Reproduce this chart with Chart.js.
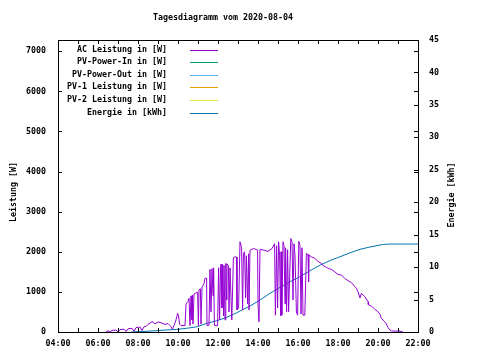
<!DOCTYPE html>
<html><head><meta charset="utf-8">
<script src="https://cdn.jsdelivr.net/npm/chart.js@4/dist/chart.umd.min.js"></script>
<style>html,body{margin:0;padding:0;background:#fff}canvas{display:block}</style>
</head><body>
<canvas id="c" width="480" height="360"></canvas>
<script>
const titleText = "Tagesdiagramm vom 2020-08-04";
const yTitle = "Leistung [W]";
const y2Title = "Energie [kWh]";
const seriesNames = ["AC Leistung in [W]","PV-Power-In in [W]","PV-Power-Out in [W]","PV-1 Leistung in [W]","PV-2 Leistung in [W]","Energie in [kWh]"];
const seriesColors = ["#9400D3","#009E73","#56B4E9","#E69F00","#F0E442","#0072B2"];

// AC Leistung: time (hours) and power (W)
const acTime = [6.40,6.50,6.60,6.70,6.90,7.00,7.10,7.30,7.40,7.50,7.70,7.80,7.90,8.10,8.20,8.30,8.40,8.50,8.60,8.70,8.80,8.85,9.00,9.10,9.20,9.35,9.50,9.60,9.65,9.72,9.80,9.90,9.98,10.02,10.08,10.15,10.35,10.40,10.50,10.55,10.60,10.65,10.70,10.72,10.75,10.80,10.88,10.98,11.02,11.05,11.12,11.15,11.20,11.30,11.35,11.43,11.45,11.55,11.60,11.65,11.70,11.75,11.78,11.82,11.98,12.03,12.08,12.13,12.15,12.20,12.23,12.28,12.30,12.35,12.39,12.43,12.45,12.52,12.55,12.60,12.69,12.77,12.85,12.93,12.95,13.03,13.10,13.18,13.23,13.27,13.33,13.38,13.42,13.48,13.53,13.55,13.60,13.77,13.90,13.98,14.00,14.05,14.10,14.30,14.50,14.70,14.83,14.87,14.93,14.98,15.03,15.08,15.13,15.15,15.19,15.25,15.30,15.35,15.38,15.43,15.48,15.53,15.64,15.70,15.75,15.80,15.85,15.92,15.98,16.04,16.10,16.15,16.20,16.25,16.34,16.42,16.50,16.53,16.55,16.67,16.84,17.00,17.17,17.25,17.42,17.54,17.67,17.84,18.00,18.17,18.34,18.50,18.67,18.84,18.92,19.00,19.10,19.17,19.34,19.50,19.52,19.67,19.84,20.00,20.09,20.17,20.34,20.42,20.50,20.59,20.67,20.85,21.05,21.25];
const acPower = [0,30,0,40,50,0,60,70,10,80,90,20,110,125,40,130,140,190,220,260,230,200,250,240,220,190,210,160,130,70,160,300,465,420,200,160,160,700,760,840,160,900,300,920,200,950,970,990,160,1050,1080,200,1120,1200,1340,1340,160,170,1560,500,1580,900,1600,160,160,1600,300,1620,1690,600,1680,400,1660,300,1710,800,1700,1650,500,1600,300,1850,1875,1870,550,600,2250,2100,550,1950,2000,850,1900,700,1950,550,2040,2080,2060,2040,700,255,2060,2040,2010,2080,2200,420,2150,600,2250,1900,400,2000,420,2250,2150,700,2100,500,2050,505,2330,2250,800,2200,1900,500,420,2260,2150,450,2100,420,420,1960,1930,1250,1920,1875,1835,1760,1710,1660,1610,1580,1560,1500,1435,1420,1335,1280,1230,1130,1090,1005,850,965,880,755,680,650,565,505,450,340,255,200,115,50,30,20,25,0];

// Energie: time (hours) and energy (kWh)
const enTime = [7.65,8.69,9.35,9.94,10.43,10.94,11.44,11.94,12.44,12.94,13.10,13.60,14.10,14.60,15.10,15.60,16.10,16.60,17.10,17.60,18.10,18.60,19.10,19.60,20.10,20.27,20.60,22.00];
const enValue = [0,0.15,0.3,0.4,0.57,0.8,1.34,1.74,2.26,2.97,3.24,4.0,4.93,5.96,6.88,7.75,8.52,9.45,10.3,11.0,11.6,12.2,12.74,13.1,13.4,13.5,13.55,13.55];

// Axis ticks
const xTickHours = [4,6,8,10,12,14,16,18,20,22];
const yTicks = [0,1000,2000,3000,4000,5000,6000,7000];
const y2Ticks = [0,5,10,15,20,25,30,35,40,45];
const yMax = 7280, y2Max = 45;

const FONT = "DejaVu Sans Mono";
const FS = 8.3;
const FW = "bold";

function pts(t, v){ return t.map((x,i)=>({x:x, y:v[i]})); }
const datasets = [
  {label: seriesNames[0], data: pts(acTime, acPower), yAxisID:'y'},
  {label: seriesNames[1], data: [], yAxisID:'y'},
  {label: seriesNames[2], data: [], yAxisID:'y'},
  {label: seriesNames[3], data: [], yAxisID:'y'},
  {label: seriesNames[4], data: [], yAxisID:'y'},
  {label: seriesNames[5], data: pts(enTime, enValue), yAxisID:'y2'}
].map((d,i)=>Object.assign(d,{borderColor:seriesColors[i],backgroundColor:seriesColors[i],borderWidth:1,pointRadius:0,tension:0,fill:false,showLine:true}));

const overlay = {
  id:'overlay',
  afterDraw(chart){
    const ctx = chart.ctx, a = chart.chartArea;
    const sx = chart.scales.x, sy = chart.scales.y, sy2 = chart.scales.y2;
    ctx.save();
    ctx.strokeStyle = '#000'; ctx.lineWidth = 1;
    ctx.strokeRect(Math.round(a.left)+0.5, Math.round(a.top)+0.5, Math.round(a.right-a.left), Math.round(a.bottom-a.top));
    ctx.beginPath();
    for (let h = sx.min; h <= sx.max; h++) {
      const px = Math.round(sx.getPixelForValue(h)) + 0.5;
      ctx.moveTo(px, a.bottom); ctx.lineTo(px, a.bottom - 4);
      ctx.moveTo(px, a.top); ctx.lineTo(px, a.top + 4);
    }
    sy.ticks.forEach(t=>{
      const py = Math.round(sy.getPixelForValue(t.value)) + 0.5;
      ctx.moveTo(a.left, py); ctx.lineTo(a.left + 4, py);
      ctx.moveTo(a.right, py); ctx.lineTo(a.right - 4, py);
    });
    sy2.ticks.forEach(t=>{
      const py = Math.round(sy2.getPixelForValue(t.value)) + 0.5;
      ctx.moveTo(a.right, py); ctx.lineTo(a.right - 4, py);
    });
    ctx.stroke();

    ctx.fillStyle = '#000';
    ctx.font = FW + ' ' + FS + 'px "' + FONT + '"';
    ctx.textBaseline = 'middle';
    ctx.textAlign = 'center';
    ctx.fillText(titleText, 223, 18);
    ctx.save(); ctx.translate(14, 192); ctx.rotate(-Math.PI/2); ctx.fillText(yTitle, 0, 0); ctx.restore();
    ctx.save(); ctx.translate(452, 195); ctx.rotate(-Math.PI/2); ctx.fillText(y2Title, 0, 0); ctx.restore();

    ctx.textAlign = 'right';
    chart.data.datasets.forEach((d,i)=>{
      const y = 49.5 + i*12.6;
      ctx.fillStyle = '#000';
      ctx.fillText(d.label, 167, y);
      ctx.strokeStyle = d.borderColor; ctx.lineWidth = 1;
      ctx.beginPath(); ctx.moveTo(190, Math.round(y)+0.5); ctx.lineTo(218, Math.round(y)+0.5); ctx.stroke();
    });
    ctx.restore();
  }
};

const tickFont = {family: FONT, size: FS, weight: FW};
new Chart(document.getElementById('c'), {
  type: 'scatter',
  data: {datasets},
  options: {
    responsive:false, animation:false, devicePixelRatio:1,
    layout:{padding:{top:40,left:0,right:0,bottom:0}},
    plugins:{legend:{display:false}, title:{display:false}, tooltip:{enabled:false}},
    scales:{
      x:{type:'linear', min:4, max:22,
         afterFit(s){ s.height = 28; },
         afterBuildTicks(s){ s.ticks = xTickHours.map(v=>({value:v})); },
         ticks:{color:'#000', font:tickFont, padding:7, maxRotation:0, autoSkip:false,
                callback:v=>String(v%24).padStart(2,'0')+':00'},
         grid:{display:false, drawTicks:false}, border:{display:false}},
      y:{type:'linear', position:'left', min:0, max:yMax,
         afterFit(s){ s.width = 58; },
         afterBuildTicks(s){ s.ticks = yTicks.map(v=>({value:v})); },
         ticks:{color:'#000', font:tickFont, padding:12, autoSkip:false, callback:v=>String(v)},
         grid:{display:false, drawTicks:false}, border:{display:false}},
      y2:{type:'linear', position:'right', min:0, max:y2Max,
         afterFit(s){ s.width = 62; },
         afterBuildTicks(s){ s.ticks = y2Ticks.map(v=>({value:v})); },
         ticks:{color:'#000', font:tickFont, padding:11, autoSkip:false, callback:v=>String(v)},
         grid:{display:false, drawTicks:false}, border:{display:false}}
    }
  },
  plugins:[overlay]
});
</script>
</body></html>
